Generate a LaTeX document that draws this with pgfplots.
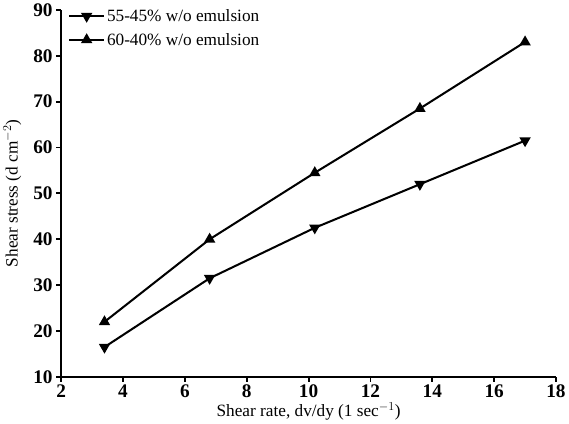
\documentclass[border=0pt]{standalone}
\usepackage{fontspec}
\setmainfont{Liberation Serif}[BoldFont={Liberation Serif Bold}]
\usepackage{pgfplots}
\pgfplotsset{compat=1.18}
\begin{document}
\begin{tikzpicture}
\begin{axis}[
  scale only axis,
  width=488pt, height=362pt,
  xmin=2, xmax=18, ymin=10, ymax=90,
  xtick={2,4,...,18}, ytick={10,20,...,90},
  axis lines*=left,
  axis line style={line width=2pt},
  tick style={line width=1.8pt, black},
  tick align=outside,
  major tick length=5pt,
  /pgf/number format/assume math mode=true,
  xticklabel style={font=\fontsize{19}{19}\selectfont\bfseries, yshift=1pt},
  yticklabel style={font=\fontsize{19}{19}\selectfont\bfseries, xshift=0pt},
  xlabel={Shear rate, dv/dy (1 sec$^{-1}$)},
  ylabel={Shear stress (d cm$^{-2}$)},
  label style={font=\fontsize{17}{17}\selectfont},
  xlabel style={yshift=2pt},
  ylabel style={yshift=5pt},
  clip=false,
  legend style={draw=none, fill=none, at={(0.012,1.01)}, anchor=north west, font=\fontsize{17}{17}\selectfont, row sep=6pt, inner sep=1pt},
  legend cell align=left,
  legend image code/.code={\draw[mark repeat=2,mark phase=2,#1] plot coordinates {(0cm,0cm) (0.6cm,0cm) (1.2cm,0cm)};},
  legend image post style={line width=2pt},
]
\addplot[black, line width=2pt, mark=triangle*, mark size=4.5pt, mark options={rotate=180}] coordinates {
(3.4,16.5) (6.8,31.5) (10.2,42.5) (13.6,52) (17,61.5)};
\addlegendentry{55-45\% w/o emulsion}
\addplot[black, line width=2pt, mark=triangle*, mark size=4.5pt] coordinates {
(3.4,22) (6.8,40) (10.2,54.5) (13.6,68.5) (17,83)};
\addlegendentry{60-40\% w/o emulsion}
\end{axis}
\end{tikzpicture}
\end{document}
